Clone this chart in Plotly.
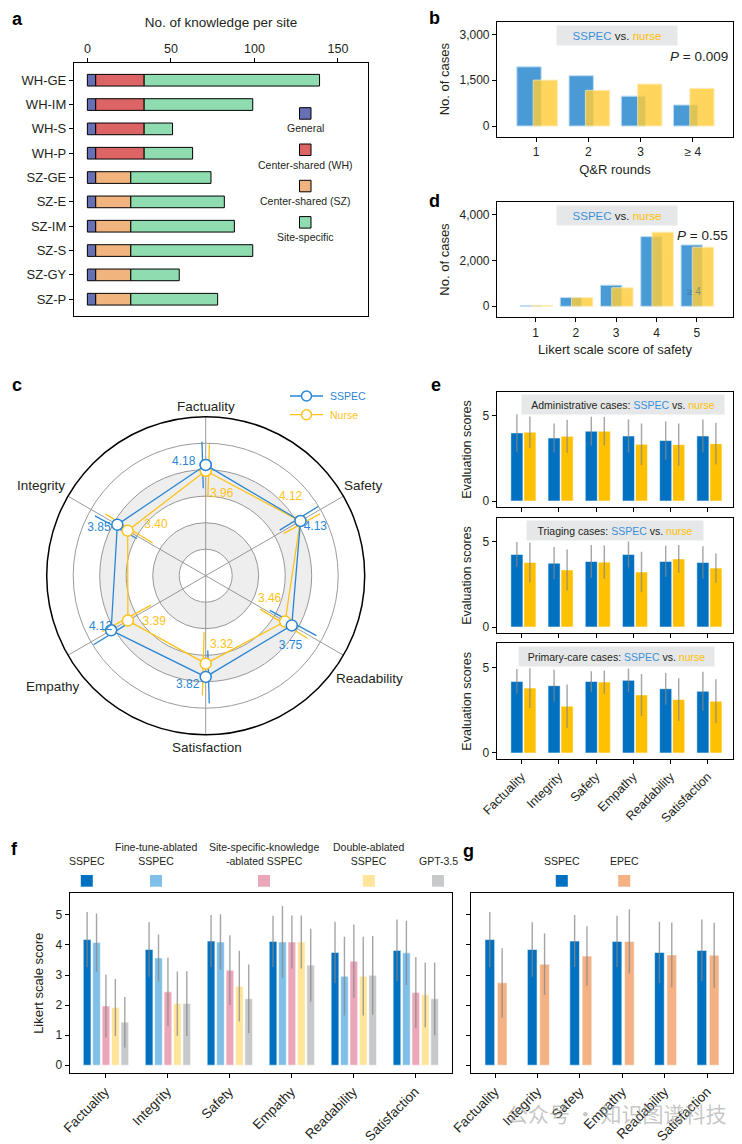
import plotly.graph_objects as go

W, H = 742, 1144
def fx(x): return x / W
def fy(y): return 1 - y / H

FONT = "Liberation Sans, Arial, sans-serif"
TXT = "#231F20"

# ---------------- data ----------------
# a: knowledge per site
sites_wh = ["WH-GE", "WH-IM", "WH-S", "WH-P"]
sites_sz = ["SZ-GE", "SZ-E", "SZ-IM", "SZ-S", "SZ-GY", "SZ-P"]
general_wh = [5, 5, 5, 5]
general_sz = [5, 5, 5, 5, 5, 5]
shared_wh = [29, 29, 29, 29]
shared_sz = [21, 21, 21, 21, 21, 21]
specific_wh = [105, 65, 17, 29]
specific_sz = [48, 56, 62, 73, 29, 52]
a_legend = ["General", "Center-shared (WH)", "Center-shared (SZ)", "Site-specific"]

# b: Q&R rounds
qr_rounds = ["1", "2", "3", "≥ 4"]
qr_sspec = [1940, 1650, 980, 690]
qr_nurse = [1505, 1170, 1375, 1235]

# d: Likert safety
likert_scores = [1, 2, 3, 4, 5]
safety_sspec = [30, 380, 920, 3030, 2670]
safety_nurse = [40, 375, 805, 3225, 2570]

# c: radar
radar_axes = ["Factuality", "Safety", "Readability", "Satisfaction", "Empathy", "Integrity"]
radar_theta = [0, 60, 120, 180, 240, 300]
radar_sspec = [4.18, 4.13, 3.75, 3.82, 4.12, 3.85]
radar_sspec_err = [0.88, 0.85, 1.0, 1.0, 0.85, 0.9]
radar_nurse = [3.96, 4.12, 3.46, 3.32, 3.39, 3.40]
radar_nurse_err = [1.0, 0.78, 1.05, 1.2, 1.05, 1.05]
# label placement offsets (radial, angular) relative to each point
sspec_lbl_dr = [0.18, 0.40, 0.40, 0.36, 0.30, 0.56]
sspec_lbl_dt = [-11, 6, 9.5, 9.3, 3.8, -6]
nurse_lbl_dr = [-0.81, 0.26, -0.89, -0.65, -0.79, -0.73]
nurse_lbl_dt = [11, -13, -9.8, -13, -11.7, 15.4]
# axis-name label positions (page pixels)
radar_lbl_xy = [(205.7, 406), (363.3, 485.7), (369.3, 678.3), (207.3, 747.3), (52.7, 686.7), (40.7, 485.7)]

# e: by case type
metrics = ["Factuality", "Integrity", "Safety", "Empathy", "Readability", "Satisfaction"]
admin_sspec = [4.00, 3.70, 4.10, 3.82, 3.55, 3.82]
admin_sspec_err = [1.10, 0.85, 0.85, 0.97, 1.12, 0.97]
admin_nurse = [4.04, 3.80, 4.10, 3.33, 3.31, 3.37]
admin_nurse_err = [0.93, 0.97, 0.83, 1.22, 1.24, 1.22]
triage_sspec = [4.26, 3.75, 3.85, 4.26, 3.85, 3.79]
triage_sspec_err = [0.73, 0.95, 0.97, 0.76, 0.92, 0.96]
triage_nurse = [3.79, 3.35, 3.81, 3.23, 4.00, 3.46]
triage_nurse_err = [1.17, 1.20, 0.98, 1.19, 0.82, 0.86]
primary_sspec = [4.19, 3.94, 4.19, 4.25, 3.76, 3.61]
primary_sspec_err = [0.73, 0.93, 0.60, 0.70, 0.93, 1.14]
primary_nurse = [3.80, 2.74, 4.15, 3.40, 3.13, 3.03]
primary_nurse_err = [1.16, 1.27, 0.68, 1.23, 1.25, 1.28]
case_titles = ["Administrative cases: ", "Triaging cases: ", "Primary-care cases: "]

# f: ablation
ablation_models = ["SSPEC", "Fine-tune-ablated<br>SSPEC", "Site-specific-knowledge<br>-ablated SSPEC",
                   "Double-ablated<br>SSPEC", "GPT-3.5"]
f_sspec = [4.18, 3.85, 4.13, 4.12, 3.75, 3.82]
f_sspec_err = [0.92, 0.91, 0.87, 0.85, 1.02, 1.03]
f_ft = [4.08, 3.57, 4.10, 4.10, 2.96, 3.74]
f_ft_err = [0.97, 0.78, 0.92, 1.20, 1.31, 1.07]
f_ssk = [1.97, 2.44, 3.16, 4.10, 3.46, 2.42]
f_ssk_err = [1.05, 1.14, 1.16, 0.88, 1.22, 1.18]
f_da = [1.92, 2.05, 2.63, 4.10, 2.96, 2.34]
f_da_err = [0.95, 1.07, 1.18, 0.88, 1.31, 1.08]
f_gpt = [1.43, 2.05, 2.21, 3.33, 2.99, 2.21]
f_gpt_err = [0.84, 1.08, 1.14, 1.21, 1.31, 1.21]

# g: SSPEC vs EPEC
g_models = ["SSPEC", "EPEC"]
g_sspec = [4.18, 3.85, 4.13, 4.12, 3.75, 3.82]
g_sspec_err = [0.92, 0.91, 0.87, 0.85, 1.02, 1.03]
g_epec = [2.74, 3.36, 3.63, 4.12, 3.67, 3.66]
g_epec_err = [1.15, 1.02, 0.99, 1.07, 1.08, 1.08]

# ---------------- styles ----------------
C_GEN, C_WH, C_SZ, C_SPEC = "#6770B5", "#DC6464", "#F2B47F", "#8EDCB0"
C_B_BLUE, C_B_YEL = "#4A9AD6", "#FFCD3A"
C_BLUE, C_YEL = "#0070C0", "#FFC000"
C_LBLUE_TXT, C_YEL_TXT = "#3A91DA", "#FFC000"
C_R_BLUE, C_R_YEL = "#2A86D4", "#FFC21A"
F_COLORS = ["#0070C0", "#80BFE8", "#EBA7B9", "#FFE59A", "#C8C9CB"]
C_EPEC = "#F4B183"
ERR = dict(type="data", color="rgba(135,135,135,0.75)", thickness=1.4, width=0)
BAR_EDGE = dict(color="rgba(255,255,255,0.55)", width=1)

fig = go.Figure()

# ---------------- panel a ----------------
cats_a = sites_wh + sites_sz
gen_all = general_wh + general_sz
shared_all = shared_wh + shared_sz
spec_all = specific_wh + specific_sz
edge = dict(color="black", width=1)
fig.add_bar(y=cats_a, x=gen_all, base=[0] * len(gen_all), orientation="h", width=0.48,
            marker=dict(color=C_GEN, line=edge), xaxis="x", yaxis="y", showlegend=False)
fig.add_bar(y=sites_wh, x=shared_wh, base=general_wh, orientation="h", width=0.48,
            marker=dict(color=C_WH, line=edge), xaxis="x", yaxis="y", showlegend=False)
fig.add_bar(y=sites_sz, x=shared_sz, base=general_sz, orientation="h", width=0.48,
            marker=dict(color=C_SZ, line=edge), xaxis="x", yaxis="y", showlegend=False)
fig.add_bar(y=cats_a, x=spec_all, base=[g + s for g, s in zip(gen_all, shared_all)],
            orientation="h", width=0.48, marker=dict(color=C_SPEC, line=edge),
            xaxis="x", yaxis="y", showlegend=False)

# ---------------- panel b ----------------
fig.add_bar(x=qr_rounds, y=qr_sspec, width=0.466, offset=-0.37,
            marker=dict(color=C_B_BLUE, line=dict(color="#BFDDF3", width=1)),
            xaxis="x2", yaxis="y2", showlegend=False)
fig.add_bar(x=qr_rounds, y=qr_nurse, width=0.466, offset=-0.057, opacity=0.82,
            marker=dict(color=C_B_YEL, line=dict(color="#FFE9A8", width=1)),
            xaxis="x2", yaxis="y2", showlegend=False)

# ---------------- panel d ----------------
fig.add_bar(x=likert_scores, y=safety_sspec, width=0.53, offset=-0.39,
            marker=dict(color=C_B_BLUE, line=dict(color="#BFDDF3", width=1)),
            xaxis="x3", yaxis="y3", showlegend=False)
fig.add_bar(x=likert_scores, y=safety_nurse, width=0.53, offset=-0.11, opacity=0.82,
            marker=dict(color=C_B_YEL, line=dict(color="#FFE9A8", width=1)),
            xaxis="x3", yaxis="y3", showlegend=False)

# ---------------- panel c (radar) ----------------
for inner in [1, 3]:
    fig.add_trace(go.Barpolar(r=[1], base=[inner], theta=[0], width=[360],
                              marker=dict(color="rgba(120,120,120,0.13)", line=dict(width=0)),
                              subplot="polar", showlegend=False, hoverinfo="skip"))

def err_segments(vals, errs, dtheta):
    r, t = [], []
    for v, e, th in zip(vals, errs, radar_theta):
        r += [v - e, v + e, None]
        t += [th + dtheta, th + dtheta, None]
    return r, t

r_s, t_s = err_segments(radar_sspec, radar_sspec_err, -1.6)
r_n, t_n = err_segments(radar_nurse, radar_nurse_err, 1.6)
fig.add_trace(go.Scatterpolar(r=r_s, theta=t_s, mode="lines", line=dict(color=C_R_BLUE, width=1.3),
                              connectgaps=False, subplot="polar", showlegend=False))
fig.add_trace(go.Scatterpolar(r=r_n, theta=t_n, mode="lines", line=dict(color=C_R_YEL, width=1.3),
                              connectgaps=False, subplot="polar", showlegend=False))
for vals, col in [(radar_nurse, C_R_YEL), (radar_sspec, C_R_BLUE)]:
    fig.add_trace(go.Scatterpolar(
        r=vals + vals[:1], theta=radar_theta + radar_theta[:1],
        mode="lines+markers", line=dict(color=col, width=1.3),
        marker=dict(size=11, color="white", line=dict(color=col, width=1.5)),
        subplot="polar", showlegend=False))
for vals, dr, dt, col in [(radar_sspec, sspec_lbl_dr, sspec_lbl_dt, C_R_BLUE),
                          (radar_nurse, nurse_lbl_dr, nurse_lbl_dt, C_R_YEL)]:
    fig.add_trace(go.Scatterpolar(
        r=[v + d for v, d in zip(vals, dr)], theta=[t + d for t, d in zip(radar_theta, dt)],
        mode="text", text=[f"{v:.2f}" for v in vals], textposition="middle center",
        textfont=dict(color=col, size=12), subplot="polar", showlegend=False))

# ---------------- panel e ----------------
e_sets = [(admin_sspec, admin_sspec_err, admin_nurse, admin_nurse_err),
          (triage_sspec, triage_sspec_err, triage_nurse, triage_nurse_err),
          (primary_sspec, primary_sspec_err, primary_nurse, primary_nurse_err)]
for i, (s, se, n, ne) in enumerate(e_sets):
    xa, ya = f"x{4 + i}", f"y{4 + i}"
    fig.add_bar(x=metrics, y=s, width=0.325, offset=-0.29, marker=dict(color=C_BLUE, line=BAR_EDGE),
                error_y=dict(ERR, array=se), xaxis=xa, yaxis=ya, showlegend=False)
    fig.add_bar(x=metrics, y=n, width=0.325, offset=0.06, marker=dict(color=C_YEL, line=BAR_EDGE),
                error_y=dict(ERR, array=ne), xaxis=xa, yaxis=ya, showlegend=False)

# ---------------- panel f ----------------
f_vals = [(f_sspec, f_sspec_err), (f_ft, f_ft_err), (f_ssk, f_ssk_err), (f_da, f_da_err), (f_gpt, f_gpt_err)]
f_offsets = [-0.355, -0.203, -0.051, 0.101, 0.253]
for (v, e), off, col in zip(f_vals, f_offsets, F_COLORS):
    fig.add_bar(x=metrics, y=v, width=0.124, offset=off, marker=dict(color=col, line=BAR_EDGE),
                error_y=dict(ERR, array=e), xaxis="x7", yaxis="y7", showlegend=False)

# ---------------- panel g ----------------
fig.add_bar(x=metrics, y=g_sspec, width=0.228, offset=-0.236, marker=dict(color=C_BLUE, line=BAR_EDGE),
            error_y=dict(ERR, array=g_sspec_err), xaxis="x8", yaxis="y8", showlegend=False)
fig.add_bar(x=metrics, y=g_epec, width=0.228, offset=0.055, marker=dict(color=C_EPEC, line=BAR_EDGE),
            error_y=dict(ERR, array=g_epec_err), xaxis="x8", yaxis="y8", showlegend=False)

# ---------------- axes ----------------
def frame(**kw):
    d = dict(showline=True, mirror=True, linecolor="black", linewidth=1.2, showgrid=False,
             zeroline=False, ticks="outside", ticklen=4, tickcolor="black", tickwidth=1,
             automargin=False, tickfont=dict(size=12, color=TXT))
    d.update(kw)
    return d

layout = dict(
    template="none",
    width=W, height=H, margin=dict(l=0, r=0, t=0, b=0, pad=0), autosize=False,
    paper_bgcolor="white", plot_bgcolor="white", barmode="overlay",
    font=dict(family=FONT, color=TXT),
    # a
    xaxis=frame(domain=[fx(74), fx(368)], anchor="y", side="top", range=[-8, 168],
                tickvals=[0, 50, 100, 150], tickfont=dict(size=12.5, color=TXT),
                title=dict(text="No. of knowledge per site", font=dict(size=13.5), standoff=10)),
    yaxis=frame(domain=[fy(316), fy(62.7)], anchor="x", type="category", categoryorder="array",
                categoryarray=cats_a, range=[9.69, -0.72], tickfont=dict(size=13, color=TXT)),
    # b
    xaxis2=frame(domain=[fx(497), fx(733)], anchor="y2", type="category", categoryorder="array",
                 categoryarray=qr_rounds, range=[-0.75, 3.77], tickfont=dict(size=12, color=TXT),
                 title=dict(text="Q&R rounds", font=dict(size=13), standoff=6)),
    yaxis2=frame(domain=[fy(136.7), fy(21.7)], anchor="x2", range=[-350, 3420],
                 tickvals=[0, 1500, 3000], tickformat=",",
                 title=dict(text="No. of cases", font=dict(size=13), standoff=6)),
    # d
    xaxis3=frame(domain=[fx(497), fx(733)], anchor="y3", range=[0.04, 5.9], tickvals=likert_scores,
                 title=dict(text="Likert scale score of safety", font=dict(size=13), standoff=6)),
    yaxis3=frame(domain=[fy(317.3), fy(201.7)], anchor="x3", range=[-480, 4550],
                 tickvals=[0, 2000, 4000], tickformat=",",
                 title=dict(text="No. of cases", font=dict(size=13), standoff=6)),
    # e
    xaxis4=frame(domain=[fx(496.7), fx(733.3)], anchor="y4", type="category", categoryorder="array",
                 categoryarray=metrics, range=[-0.67, 5.69], showticklabels=False),
    yaxis4=frame(domain=[fy(507.3), fy(391.7)], anchor="x4", range=[-0.37, 6.42], tickvals=[0, 5],
                 title=dict(text="Evaluation scores", font=dict(size=12.5), standoff=8)),
    xaxis5=frame(domain=[fx(496.7), fx(733.3)], anchor="y5", type="category", categoryorder="array",
                 categoryarray=metrics, range=[-0.67, 5.69], showticklabels=False),
    yaxis5=frame(domain=[fy(633.3), fy(517.7)], anchor="x5", range=[-0.37, 6.42], tickvals=[0, 5],
                 title=dict(text="Evaluation scores", font=dict(size=12.5), standoff=8)),
    xaxis6=frame(domain=[fx(496.7), fx(733.3)], anchor="y6", type="category", categoryorder="array",
                 categoryarray=metrics, range=[-0.67, 5.69], tickangle=-45, tickfont=dict(size=12.5, color=TXT)),
    yaxis6=frame(domain=[fy(759.3), fy(643.3)], anchor="x6", range=[-0.37, 6.42], tickvals=[0, 5],
                 title=dict(text="Evaluation scores", font=dict(size=12.5), standoff=8)),
    # f
    xaxis7=frame(domain=[fx(69.7), fx(451.7)], anchor="y7", type="category", categoryorder="array",
                 categoryarray=metrics, range=[-0.574, 5.59], tickangle=-45, tickfont=dict(size=13.5, color=TXT)),
    yaxis7=frame(domain=[fy(1073.3), fy(893.3)], anchor="x7", range=[-0.27, 5.72],
                 tickvals=[0, 1, 2, 3, 4, 5],
                 title=dict(text="Likert scale score", font=dict(size=13), standoff=8)),
    # g
    xaxis8=frame(domain=[fx(470.7), fx(733.3)], anchor="y8", type="category", categoryorder="array",
                 categoryarray=metrics, range=[-0.573, 5.62], tickangle=-45, tickfont=dict(size=13.5, color=TXT)),
    yaxis8=frame(domain=[fy(1073.3), fy(893.3)], anchor="x8", range=[-0.27, 5.72],
                 tickvals=[0, 1, 2, 3, 4, 5], showticklabels=False),
    # c
    polar=dict(
        domain=dict(x=[fx(46.7), fx(364.7)], y=[fy(734.7), fy(416.7)]),
        bgcolor="white",
        angularaxis=dict(rotation=90, direction="clockwise", tickmode="array", tickvals=radar_theta,
                         ticktext=radar_axes, showticklabels=False, showline=True, linecolor="black",
                         linewidth=1.5, showgrid=True, gridcolor="#9B9B9B", gridwidth=1, ticks=""),
        radialaxis=dict(range=[0, 6], tickvals=[1, 2, 3, 4, 5], showticklabels=False, ticks="",
                        showline=False, showgrid=True, gridcolor="#9B9B9B", gridwidth=1),
    ),
)
fig.update_layout(**layout)

ann = []
shapes = []
def label(txt, x, y):
    ann.append(dict(text=f"<b>{txt}</b>", x=fx(x), y=fy(y), xref="paper", yref="paper",
                    showarrow=False, font=dict(size=18, color="black"), xanchor="center", yanchor="middle"))
for t, x, y in [("a", 17, 19), ("b", 435, 18), ("d", 435, 201), ("c", 17, 385), ("e", 436, 385),
                ("f", 15, 849), ("g", 468, 851)]:
    label(t, x, y)

# radar axis names
for name, (x, y) in zip(radar_axes, radar_lbl_xy):
    ann.append(dict(text=name, x=fx(x), y=fy(y), xref="paper", yref="paper", showarrow=False,
                    font=dict(size=13.5, color=TXT), xanchor="center", yanchor="middle"))

# panel a legend
a_cols = [C_GEN, C_WH, C_SZ, C_SPEC]
for i, (name, col) in enumerate(zip(a_legend, a_cols)):
    y0 = 107.7 + i * 36.3
    shapes.append(dict(type="rect", xref="paper", yref="paper", x0=fx(299.5), x1=fx(311), y0=fy(y0 + 11.5),
                       y1=fy(y0), fillcolor=col, line=dict(color="black", width=1)))
    ann.append(dict(text=name, x=fx(305), y=fy(y0 + 20.8), xref="paper", yref="paper", showarrow=False,
                    font=dict(size=10.5, color=TXT), xanchor="center", yanchor="middle"))

# b / d boxes and P values
vs_txt = f"<span style='color:{C_LBLUE_TXT}'>SSPEC</span> vs. <span style='color:{C_YEL_TXT}'>nurse</span>"
for ycen in [35.5, 216]:
    ann.append(dict(text=vs_txt, x=fx(617), y=fy(ycen), xref="paper", yref="paper", showarrow=False,
                    bgcolor="#E6E7E8", width=118, height=17, font=dict(size=11.5, color=TXT),
                    xanchor="center", yanchor="middle"))
ann.append(dict(text="<i>P</i> = 0.009", x=fx(730), y=fy(56.7), xref="paper", yref="paper", showarrow=False,
                font=dict(size=13.5, color=TXT), xanchor="right", yanchor="middle"))
ann.append(dict(text="<i>P</i> = 0.55", x=fx(730), y=fy(235), xref="paper", yref="paper", showarrow=False,
                font=dict(size=13.5, color=TXT), xanchor="right", yanchor="middle"))
ann.append(dict(text="≥ 4", x=fx(694), y=fy(291.5), xref="paper", yref="paper", showarrow=False,
                font=dict(size=10, color="rgba(40,90,140,0.55)"), xanchor="center", yanchor="middle"))

# e boxes
for t, xc, yc, w in zip(case_titles, [622.8, 615, 616], [404, 530, 656.7], [200, 174, 193]):
    ann.append(dict(text=t + f"<span style='color:{C_LBLUE_TXT}'>SSPEC</span> vs. "
                         f"<span style='color:{C_YEL_TXT}'>nurse</span>",
                    x=fx(xc), y=fy(yc), xref="paper", yref="paper", showarrow=False, bgcolor="#E6E7E8",
                    width=w, height=17, font=dict(size=10.5, color=TXT), xanchor="center", yanchor="middle"))

# radar legend
for i, (name, col) in enumerate([("SSPEC", C_R_BLUE), ("Nurse", C_R_YEL)]):
    yy = 396 + i * 18.7
    shapes.append(dict(type="line", xref="paper", yref="paper", x0=fx(290), x1=fx(323), y0=fy(yy), y1=fy(yy),
                       line=dict(color=col, width=1.3)))
    shapes.append(dict(type="circle", xref="paper", yref="paper", x0=fx(301.5), x1=fx(311.5),
                       y0=fy(yy + 5), y1=fy(yy - 5), fillcolor="white", line=dict(color=col, width=1.5)))
    ann.append(dict(text=name, x=fx(328), y=fy(yy), xref="paper", yref="paper", showarrow=False,
                    font=dict(size=10.5, color=col), xanchor="left", yanchor="middle"))

# f legend
f_leg_x = [86.8, 156, 264, 368.8, 438]
for name, col, xc in zip(ablation_models, F_COLORS, f_leg_x):
    shapes.append(dict(type="rect", xref="paper", yref="paper", x0=fx(xc - 6), x1=fx(xc + 6),
                       y0=fy(886.7), y1=fy(875), fillcolor=col, line=dict(width=0)))
    ann.append(dict(text=name, x=fx(xc), y=fy(869), xref="paper", yref="paper", showarrow=False,
                    font=dict(size=10.5, color=TXT), xanchor="center", yanchor="bottom"))
# g legend
for name, col, xc in zip(g_models, [C_BLUE, C_EPEC], [561.8, 624.2]):
    shapes.append(dict(type="rect", xref="paper", yref="paper", x0=fx(xc - 6), x1=fx(xc + 6),
                       y0=fy(886.7), y1=fy(875), fillcolor=col, line=dict(width=0)))
    ann.append(dict(text=name, x=fx(xc), y=fy(869), xref="paper", yref="paper", showarrow=False,
                    font=dict(size=10.5, color=TXT), xanchor="center", yanchor="bottom"))

# watermark
ann.append(dict(text="公众号 · 知识图谱科技", x=fx(616), y=fy(1113), xref="paper", yref="paper", showarrow=False,
                font=dict(family="Noto Sans CJK SC", size=21, color="rgba(150,150,150,0.55)"),
                xanchor="center", yanchor="middle"))

fig.update_layout(annotations=ann, shapes=shapes)
fig.write_html("out.html", config={"displayModeBar": False},
               post_script="document.body.style.margin='0';document.body.style.overflow='hidden';")
